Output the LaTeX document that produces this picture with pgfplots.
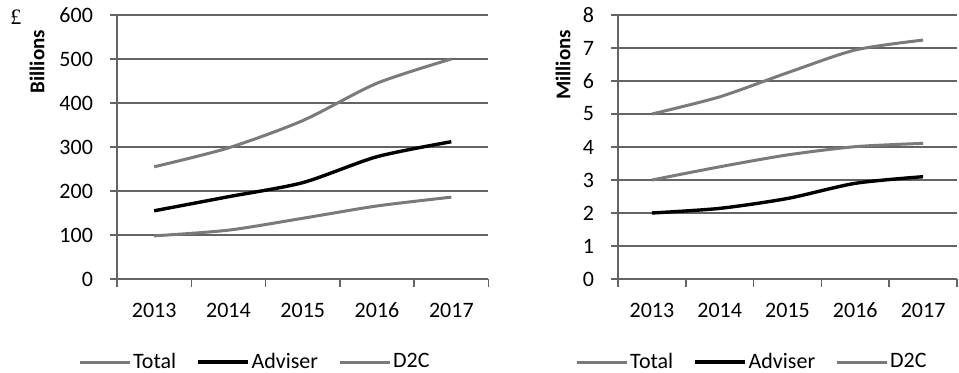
\documentclass[border=0pt]{standalone}
\usepackage{pgfplots}
\pgfplotsset{compat=1.18}
\usepackage{fontspec}
\setmainfont{Carlito}
\newfontfamily\seriffont{Liberation Serif}

\definecolor{seriesgray}{HTML}{7A7A7A}
\definecolor{gridgray}{HTML}{646464}

\pgfplotstableread{
year total adviser dtc
0 255 155 98
1 298 187 111
2 360 219 138
3 445 278 166
4 500 312 186
}\fundsassets
\pgfplotstableread{
year total adviser dtc
0 5.00 2.00 3.00
1 5.52 2.14 3.40
2 6.25 2.44 3.76
3 6.94 2.90 4.01
4 7.24 3.10 4.11
}\fundsclients

\pgfplotsset{
  panel/.style={
    scale only axis,
    height=132pt,
    xmin=-0.5, xmax=4.5,
    ymin=0,
    axis lines=left,
    axis line style={-, gridgray, line width=0.7pt},
    xtick={0,1,2,3,4},
    xticklabels={2013,2014,2015,2016,2017},
    major x tick style={draw=none},
    minor xtick={-0.5,0.5,1.5,2.5,3.5,4.5},
    minor x tick style={gridgray, line width=0.7pt},
    minor tick length=4pt,
    tick align=outside,
    major tick length=3.5pt,
    ytick style={gridgray, line width=0.7pt},
    ymajorgrids,
    grid style={gridgray, line width=0.7pt},
    /pgf/number format/assume math mode=true,
    tick label style={font=\fontsize{11}{13}\selectfont, text=black},
    xticklabel style={yshift=-5pt},
    yticklabel style={xshift=-5pt},
    ylabel style={font=\bfseries\fontsize{10.5}{12}\selectfont, anchor=east},
    legend columns=3,
    legend cell align=left,
    legend style={draw=none, fill=none, font=\fontsize{11}{13}\selectfont,
      anchor=center, inner sep=0pt,
      /tikz/every even column/.append style={column sep=9pt},
      nodes={inner sep=1pt}},
    legend image code/.code={\draw[##1] (0pt,0pt) -- (25pt,0pt);},
    clip=false,
  },
  totalline/.style={seriesgray, line width=1.5pt, smooth, tension=0.45},
  advline/.style={black, line width=1.7pt, smooth, tension=0.45},
  dtcline/.style={seriesgray, line width=1.5pt, smooth, tension=0.45},
}

\begin{document}
\begin{tikzpicture}
\path[use as bounding box] (0,0) rectangle (479.5pt,186.5pt);

% assets under management, GBP billions
\begin{axis}[panel,
  at={(58.5pt,47pt)}, anchor=south west,
  width=185.75pt,
  ymax=600, ytick={0,100,...,600},
  ylabel={Billions},
  ylabel style={at={(axis description cs:-0.2153,0.97)}},
  legend style={at={(0.371,-0.315)}},
]
\addplot[totalline] table[x=year, y=total] {\fundsassets};
\addlegendentry{Total}
\addplot[advline] table[x=year, y=adviser] {\fundsassets};
\addlegendentry{Adviser}
\addplot[dtcline] table[x=year, y=dtc] {\fundsassets};
\addlegendentry{D2C}
\end{axis}
\node[font=\seriffont\fontsize{11}{13}\selectfont, anchor=north west, inner sep=0pt]
  at (5pt,181.5pt) {£};

% number of customers, millions
\begin{axis}[panel,
  at={(309pt,47pt)}, anchor=south west,
  width=169.5pt,
  ymax=8, ytick={0,1,...,8},
  ylabel={Millions},
  ylabel style={at={(axis description cs:-0.162,0.97)}},
  legend style={at={(0.395,-0.315)}},
]
\addplot[totalline] table[x=year, y=total] {\fundsclients};
\addlegendentry{Total}
\addplot[advline] table[x=year, y=adviser] {\fundsclients};
\addlegendentry{Adviser}
\addplot[dtcline] table[x=year, y=dtc] {\fundsclients};
\addlegendentry{D2C}
\end{axis}
\end{tikzpicture}
\end{document}
